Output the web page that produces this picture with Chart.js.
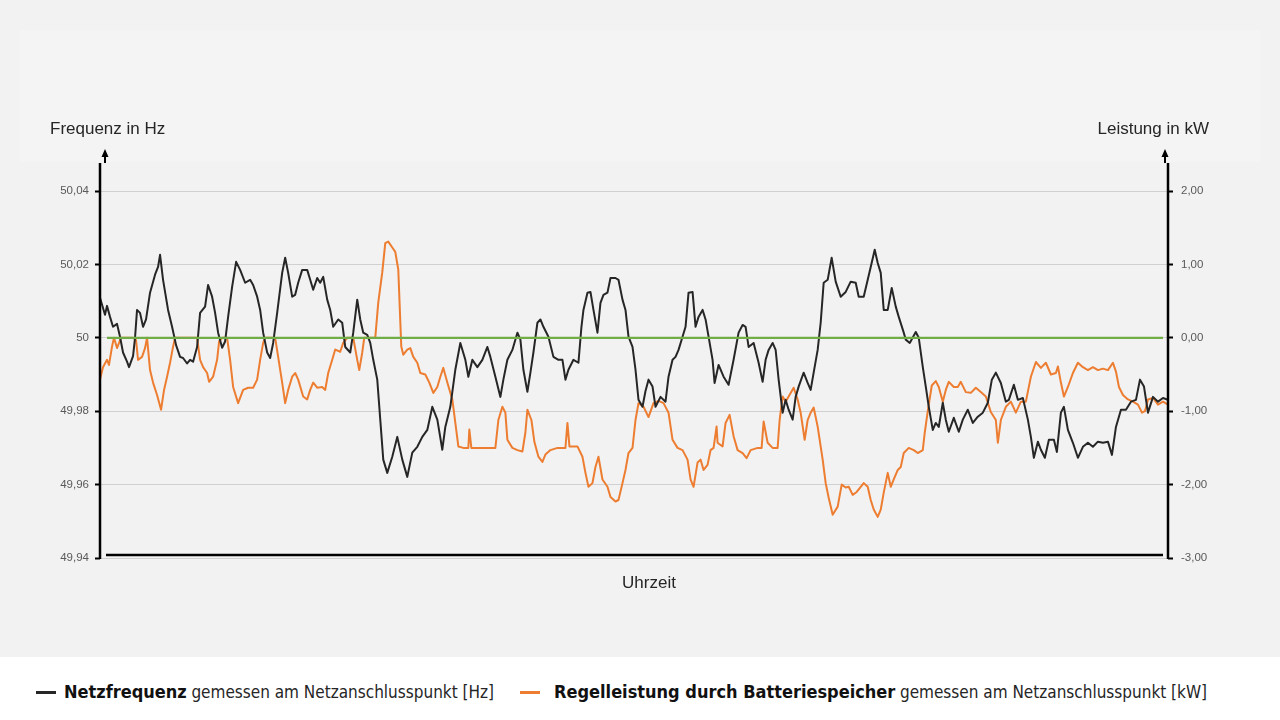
<!DOCTYPE html>
<html lang="de">
<head>
<meta charset="utf-8">
<title>Netzfrequenz und Regelleistung</title>
<script src="https://cdn.jsdelivr.net/npm/chart.js@4.4.1/dist/chart.umd.min.js"></script>
<style>
  html, body { margin: 0; padding: 0; }
  body { width: 1280px; height: 720px; background: #fff; position: relative; overflow: hidden;
         font-family: "Liberation Sans", Arial, sans-serif; color: #262626; }
  #stage { position: absolute; left: 0; top: 0; width: 1280px; height: 657px; background: #f2f2f2; }
  #topbox { position: absolute; left: 20px; top: 30px; width: 1240px; height: 132px; background: #f4f4f4; }
  #wrap { position: absolute; left: 0; top: 0; width: 1280px; height: 657px; }
  .axtitle { position: absolute; font-size: 17px; line-height: 20px; white-space: nowrap; }
  #legend { position: absolute; left: 0; top: 680px; width: 1280px; height: 26px;
            font-family: "Liberation Sans Narrow", "DejaVu Sans Condensed", "Roboto", sans-serif; }
  .dash { position: absolute; top: 11px; width: 20px; height: 3px; }
  .item { position: absolute; top: 0; white-space: nowrap; line-height: 24px; }
  .item b { font-size: 18px; font-weight: bold; color: #111; }
  .item span { font-size: 17px; color: #262626; }
</style>
</head>
<body>
<div id="stage"><div id="topbox"></div></div>
<div id="wrap"><canvas id="chart"></canvas></div>
<div class="axtitle" style="left:50px; top:119px;">Frequenz in Hz</div>
<div class="axtitle" style="right:71px; top:119px;">Leistung in kW</div>
<div class="axtitle" style="left:0; width:1298px; text-align:center; top:573px;">Uhrzeit</div>
<div id="legend">
  <div class="dash" style="left:36px; background:#262626;"></div>
  <div class="item" style="left:64px;"><b>Netzfrequenz</b> <span>gemessen am Netzanschlusspunkt [Hz]</span></div>
  <div class="dash" style="left:520px; background:#ed7d31;"></div>
  <div class="item" style="left:554px;"><b>Regelleistung durch Batteriespeicher</b> <span>gemessen am Netzanschlusspunkt [kW]</span></div>
</div>
<script>
// time index along the day (no labels on the x axis in the original)
const freqTime = [
  0,5,7,10,13,17,20,23,27,29, 33,35,37,40,43,46,50,55,58,60,
  63,68,72,76,80,83,87,90,93,97, 100,105,108,112,115,118,122,125,128,132,
  136,140,145,150,153,157,160,163,167,170, 173,177,182,185,188,192,195,198,202,207,
  210,213,217,220,223,227,230,233,238,242, 245,250,253,257,260,263,267,270,273,277,
  280,283,287,292,297,302,307,312,317,322, 327,332,337,342,345,350,355,360,365,368,
  372,377,382,387,390,395,400,403,407,412, 417,420,423,427,430,433,437,440,443,448,
  453,458,462,465,468,473,478,481,483,487, 490,493,497,500,503,507,510,515,518,522,
  525,528,532,535,538,542,545,548,552,555, 560,565,568,572,575,578,582,585,588,592,
  595,598,602,605,608,612,614,618,623,628, 633,638,642,645,648,653,658,662,665,668,
  672,675,678,682,685,688,692,695,698,703, 707,710,713,717,720,723,727,731,735,740,
  745,750,755,758,763,767,770,774,777,780, 783,787,791,795,798,803,805,809,815,818,
  822,825,828,832,835,838,842,845,848,853, 858,862,867,872,877,882,887,891,895,900,
  905,908,913,917,922,927,930,933,937,940, 944,948,953,956,960,963,967,972,977,982,
  987,992,997,1002,1007,1011,1015,1020,1025,1030, 1035,1039,1043,1047,1052,1057,1062,1067
];
// Netzfrequenz in Hz
const freqHz = [
  50.0109,50.0063,50.0087,50.0057,50.0030,50.0038,50.0003,49.9960,49.9935,49.9920,
  49.9950,50.0000,50.0076,50.0068,50.0030,50.0050,50.0123,50.0172,50.0193,50.0226,
  50.0158,50.0076,50.0030,49.9980,49.9948,49.9945,49.9930,49.9940,49.9935,49.9975,
  50.0068,50.0085,50.0144,50.0112,50.0068,50.0014,49.9973,49.9990,50.0057,50.0139,
  50.0207,50.0185,50.0150,50.0158,50.0144,50.0112,50.0076,50.0014,49.9960,49.9945,
  49.9986,50.0068,50.0177,50.0218,50.0177,50.0112,50.0117,50.0150,50.0185,50.0185,
  50.0158,50.0131,50.0163,50.0150,50.0166,50.0104,50.0076,50.0030,50.0050,50.0041,
  49.9975,49.9960,50.0014,50.0104,50.0050,50.0014,50.0008,49.9986,49.9940,49.9886,
  49.9777,49.9668,49.9632,49.9676,49.9730,49.9668,49.9621,49.9687,49.9703,49.9730,
  49.9749,49.9812,49.9777,49.9695,49.9757,49.9812,49.9913,49.9986,49.9940,49.9894,
  49.9940,49.9920,49.9940,49.9975,49.9948,49.9894,49.9839,49.9886,49.9940,49.9967,
  50.0014,49.9995,49.9913,49.9853,49.9905,49.9960,50.0041,50.0050,50.0030,50.0003,
  49.9948,49.9940,49.9940,49.9886,49.9913,49.9940,49.9932,50.0030,50.0076,50.0123,
  50.0125,50.0076,50.0014,50.0095,50.0117,50.0123,50.0163,50.0163,50.0158,50.0104,
  50.0076,50.0003,49.9975,49.9913,49.9831,49.9812,49.9855,49.9886,49.9867,49.9812,
  49.9839,49.9826,49.9894,49.9940,49.9948,49.9967,50.0003,50.0030,50.0123,50.0125,
  50.0030,50.0057,50.0076,50.0050,50.0003,49.9940,49.9877,49.9926,49.9894,49.9872,
  49.9940,50.0014,50.0035,50.0030,49.9975,49.9986,49.9932,49.9880,49.9940,49.9967,
  49.9986,49.9967,49.9886,49.9796,49.9831,49.9804,49.9777,49.9839,49.9867,49.9905,
  49.9877,49.9858,49.9905,49.9967,50.0041,50.0150,50.0158,50.0218,50.0153,50.0112,
  50.0125,50.0153,50.0150,50.0112,50.0112,50.0158,50.0193,50.0240,50.0204,50.0177,
  50.0076,50.0076,50.0136,50.0085,50.0057,50.0014,49.9995,49.9986,50.0016,50.0000,
  49.9921,49.9867,49.9812,49.9749,49.9768,49.9757,49.9823,49.9777,49.9744,49.9782,
  49.9744,49.9777,49.9804,49.9768,49.9785,49.9796,49.9823,49.9886,49.9905,49.9877,
  49.9826,49.9831,49.9872,49.9831,49.9836,49.9777,49.9730,49.9673,49.9717,49.9695,
  49.9673,49.9722,49.9722,49.9689,49.9796,49.9812,49.9749,49.9714,49.9673,49.9703,
  49.9714,49.9703,49.9717,49.9714,49.9717,49.9681,49.9757,49.9804,49.9804,49.9826,
  49.9831,49.9886,49.9867,49.9796,49.9839,49.9826,49.9836,49.9831
];

const powerTime = [
  0,3,7,9,12,14,17,21,33,36, 38,42,45,47,50,53,57,61,64,67,
  70,73,75,97,100,103,107,109,113,117, 119,122,127,130,133,138,143,148,153,157,
  160,163,165,175,178,182,185,188,192,195, 198,203,207,210,213,217,222,225,228,232,
  235,240,243,247,253,257,259,262,264,275, 278,282,285,288,292,295,298,301,303,307,
  310,313,317,320,325,329,333,337,340,343, 347,352,355,358,363,368,369,371,395,398,
  402,405,407,412,417,422,425,427,431,434, 438,442,445,450,457,465,467,469,477,482,
  485,488,492,495,498,502,507,510,515,518, 522,525,528,532,535,538,543,548,553,558,
  563,568,572,577,582,587,590,593,597,600, 603,607,610,613,616,617,622,625,629,633,
  637,642,646,650,657,661,663,667,672,677, 679,682,685,688,693,697,700,704,707,710,
  713,717,722,725,728,732,737,741,745,748, 752,756,760,763,767,770,773,777,780,783,
  787,790,793,797,800,803,808,813,817,822, 824,827,831,835,838,842,845,848,853,857,
  860,865,870,875,880,885,890,895,897,900, 905,910,915,920,925,930,935,940,945,950,
  955,957,960,963,967,972,977,982,987,992, 997,1002,1007,1012,1015,1018,1022,1027,1032,1037,
  1041,1044,1047,1052,1057,1062,1067
];
// Regelleistung durch Batteriespeicher in kW
const powerKW = [
  -0.57,-0.40,-0.30,-0.37,-0.12,0,-0.14,0,0,-0.03, -0.30,-0.26,-0.14,0,-0.44,-0.61,-0.78,-0.98,-0.71,-0.53,
  -0.34,-0.12,0,0,-0.30,-0.40,-0.48,-0.60,-0.53,-0.30, -0.05,0,0,-0.30,-0.67,-0.89,-0.71,-0.68,-0.68,-0.57,
  -0.30,-0.07,0,0,-0.26,-0.61,-0.89,-0.71,-0.53,-0.48, -0.57,-0.80,-0.84,-0.71,-0.61,-0.68,-0.67,-0.71,-0.48,-0.30,
  -0.16,-0.19,-0.07,0,0,-0.30,-0.44,-0.20,0,0, 0.48,0.89,1.29,1.31,1.23,1.17,0.93,-0.12,-0.23,-0.16,
  -0.14,-0.26,-0.34,-0.48,-0.50,-0.61,-0.75,-0.67,-0.53,-0.41, -0.61,-0.84,-1.16,-1.48,-1.50,-1.50,-1.25,-1.50,-1.50,-1.12,
  -0.94,-1.02,-1.39,-1.50,-1.53,-1.55,-1.29,-0.98,-1.12,-1.42, -1.62,-1.69,-1.59,-1.53,-1.50,-1.50,-1.16,-1.48,-1.48,-1.62,
  -1.84,-2.03,-1.98,-1.76,-1.62,-1.93,-2.03,-2.17,-2.23,-2.21, -1.98,-1.80,-1.57,-1.50,-1.12,-0.89,-0.94,-1.08,-0.89,-0.86,
  -0.89,-1.02,-1.39,-1.50,-1.53,-1.66,-1.93,-2.03,-1.70,-1.66, -1.80,-1.73,-1.53,-1.50,-1.21,-1.43,-1.48,-1.16,-1.05,-1.34,
  -1.53,-1.57,-1.64,-1.53,-1.50,-1.50,-1.14,-1.43,-1.50,-1.50, -1.12,-0.80,-0.87,-0.80,-0.68,-0.84,-1.02,-1.39,-1.12,-1.02,
  -0.95,-1.21,-1.66,-1.98,-2.18,-2.41,-2.30,-2.00,-2.04,-2.03, -2.14,-2.10,-2.03,-1.98,-2.03,-2.21,-2.34,-2.44,-2.34,-2.11,
  -1.84,-2.03,-1.93,-1.80,-1.76,-1.57,-1.50,-1.53,-1.57,-1.53, -1.29,-1.00,-0.65,-0.59,-0.67,-0.87,-0.71,-0.60,-0.67,-0.67,
  -0.60,-0.74,-0.75,-0.68,-0.74,-0.80,-1.01,-1.12,-1.43,-1.12, -0.94,-0.87,-1.02,-0.87,-0.87,-0.53,-0.33,-0.41,-0.34,-0.50,
  -0.48,-0.39,-0.61,-0.80,-0.67,-0.48,-0.34,-0.40,-0.44,-0.40, -0.44,-0.42,-0.44,-0.34,-0.46,-0.67,-0.78,-0.84,-0.87,-0.91,
  -1.02,-1.00,-0.84,-0.82,-0.91,-0.87,-0.91
];

// green reference line at 0 kW / 50 Hz
const zeroTime = [7, 1062];
const zeroKW = [0, 0];

const freqTicks = [49.94, 49.96, 49.98, 50, 50.02, 50.04];
const freqTickLabels = ['49,94', '49,96', '49,98', '50', '50,02', '50,04'];
const powerTicks = [-3, -2, -1, 0, 1, 2];
const powerTickLabels = ['-3,00', '-2,00', '-1,00', '0,00', '1,00', '2,00'];

function pts(xs, ys){
  return xs.map((x, i) => ({x: x, y: ys[i]}));
}

// axis lines with small arrows on top, plus the black base line
const axisDecor = {
  id: 'axisDecor',
  afterDraw(chart){
    const {ctx, chartArea: a} = chart;
    ctx.save();
    ctx.strokeStyle = '#000';
    ctx.fillStyle = '#000';
    ctx.lineWidth = 2.5;
    const top = a.top - 28;
    [[a.left, a.left + 5], [a.right, a.right - 3]].forEach(([lx, ax]) => {
      ctx.beginPath();
      ctx.moveTo(lx, a.bottom + 1);
      ctx.lineTo(lx, top);
      ctx.stroke();
      // arrow
      ctx.lineWidth = 2;
      ctx.beginPath();
      ctx.moveTo(ax, top);
      ctx.lineTo(ax, top - 7);
      ctx.stroke();
      ctx.beginPath();
      ctx.moveTo(ax - 3.5, top - 6);
      ctx.lineTo(ax + 3.5, top - 6);
      ctx.lineTo(ax, top - 14);
      ctx.closePath();
      ctx.fill();
      ctx.lineWidth = 2.5;
    });
    ctx.beginPath();
    ctx.moveTo(a.left + 6, a.bottom - 3);
    ctx.lineTo(a.right - 5, a.bottom - 3);
    ctx.stroke();
    ctx.restore();
  }
};

const ctx = document.getElementById('chart').getContext('2d');
new Chart(ctx, {
  type: 'line',
  data: {
    datasets: [
      {label: 'Nulllinie', data: pts(zeroTime, zeroKW), yAxisID: 'yP',
       borderColor: '#70ad47', borderWidth: 2.2, pointRadius: 0},
      {label: 'Netzfrequenz', data: pts(freqTime, freqHz), yAxisID: 'yF',
       borderColor: '#262626', borderWidth: 2, pointRadius: 0, borderJoinStyle: 'round'},
      {label: 'Regelleistung durch Batteriespeicher', data: pts(powerTime, powerKW), yAxisID: 'yP',
       borderColor: '#ed7d31', borderWidth: 2, pointRadius: 0, borderJoinStyle: 'round'}
    ]
  },
  options: {
    responsive: true,
    maintainAspectRatio: false,
    animation: false,
    layout: {padding: {top: 191, bottom: 99, left: 0, right: 0}},
    plugins: {legend: {display: false}, tooltip: {enabled: false}},
    scales: {
      x: {type: 'linear', min: 0, max: 1067, display: false},
      yF: {
        position: 'left', min: 49.94, max: 50.04,
        afterBuildTicks: s => { s.ticks = freqTicks.map(v => ({value: v})); },
        afterFit: s => { s.width = 100; },
        ticks: {
          callback: (v, i) => freqTickLabels[i],
          color: '#595959', font: {family: 'Liberation Sans', size: 11.5}, padding: 6
        },
        grid: {color: '#d0d0d0', lineWidth: 1, tickColor: '#000', tickLength: 5, tickWidth: 2},
        border: {display: false}
      },
      yP: {
        position: 'right', min: -3, max: 2,
        afterBuildTicks: s => { s.ticks = powerTicks.map(v => ({value: v})); },
        afterFit: s => { s.width = 112; },
        ticks: {
          callback: (v, i) => powerTickLabels[i],
          color: '#595959', font: {family: 'Liberation Sans', size: 11.5}, padding: 8
        },
        grid: {drawOnChartArea: false, tickColor: '#000', tickLength: 5, tickWidth: 2},
        border: {display: false}
      }
    }
  },
  plugins: [axisDecor]
});
</script>
</body>
</html>
